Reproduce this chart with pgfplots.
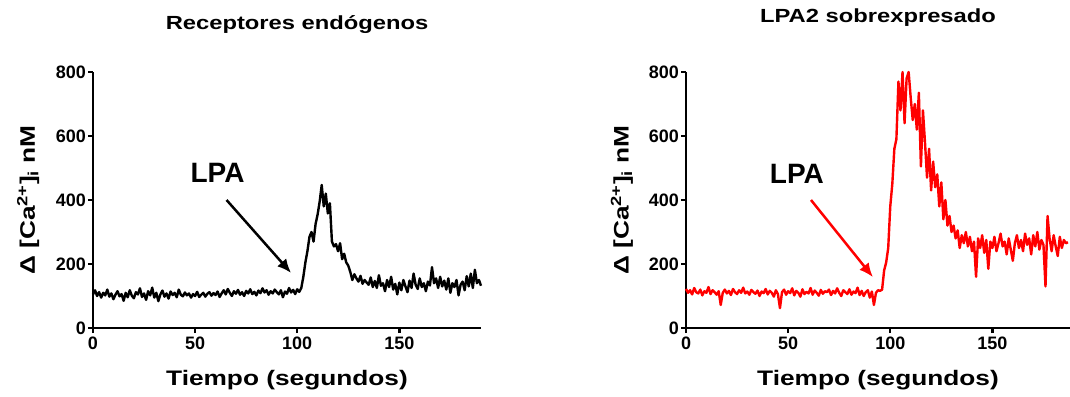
\documentclass[border=0pt]{standalone}
\usepackage{pgfplots}
\pgfplotsset{compat=1.18}
\usetikzlibrary{arrows.meta}
\usepackage{fontspec}
\setmainfont{Liberation Sans}
\newfontfamily\pf[FakeStretch=1.25]{Liberation Sans}
\pgfplotstableread{
x y
0 105
1 118
2 100
3 112
4 95
5 110
6 102
7 120
8 98
9 108
10 90
11 104
12 115
13 99
14 106
15 85
16 110
17 96
18 118
19 101
20 93
21 112
22 105
23 124
24 97
25 108
26 88
27 115
28 102
29 126
30 95
31 110
32 84
33 105
34 117
35 98
36 108
37 92
38 114
39 103
40 110
41 96
42 120
43 104
44 99
45 111
46 102
47 108
48 95
49 106
50 100
51 113
52 97
53 104
54 110
55 98
56 107
57 112
58 101
59 109
60 103
61 114
62 97
63 108
64 118
65 105
66 122
67 110
68 100
69 115
70 107
71 119
72 104
73 112
74 100
75 116
76 108
77 121
78 106
79 113
80 102
81 117
82 109
83 124
84 111
85 118
86 104
87 115
88 108
89 120
90 112
91 105
92 118
93 96
94 114
95 107
96 125
97 111
98 119
99 106
100 121
101 113
102 125
103 160
104 205
105 240
106 285
107 300
108 270
109 325
110 355
111 395
112 447
113 380
114 420
115 358
116 390
117 270
118 255
119 262
120 240
121 265
122 215
123 232
124 205
125 195
126 175
127 150
128 168
129 155
130 145
131 163
132 138
133 150
134 142
135 135
136 158
137 128
138 147
139 125
140 165
141 132
142 140
143 115
144 150
145 128
146 160
147 120
148 138
149 105
150 142
151 118
152 150
153 130
154 112
155 148
156 125
157 170
158 135
159 122
160 155
161 128
162 140
163 115
164 145
165 133
166 190
167 140
168 155
169 125
170 160
171 130
172 148
173 120
174 155
175 110
176 140
177 128
178 150
179 102
180 135
181 145
182 118
183 162
184 130
185 170
186 125
187 182
188 140
189 150
190 132
}\endo
\pgfplotstableread{
x y
0 122
1 110
2 118
3 105
4 125
5 112
6 108
7 120
8 102
9 115
10 110
11 128
12 106
13 118
14 112
15 104
16 115
17 72
18 110
19 120
20 108
21 116
22 103
23 122
24 112
25 106
26 118
27 110
28 126
29 108
30 114
31 104
32 119
33 112
34 107
35 117
36 100
37 114
38 109
39 122
40 105
41 116
42 110
43 98
44 118
45 106
46 62
47 112
48 120
49 104
50 115
51 109
52 124
53 102
54 116
55 110
56 98
57 121
58 106
59 113
60 108
61 125
62 104
63 117
64 110
65 101
66 119
67 107
68 115
69 112
70 120
71 103
72 116
73 108
74 124
75 110
76 100
77 118
78 112
79 106
80 121
81 104
82 114
83 109
84 126
85 103
86 116
87 100
88 112
89 118
90 95
91 114
92 72
93 110
94 118
95 116
96 120
97 180
98 205
99 250
100 380
101 450
102 560
103 590
104 770
105 680
106 800
107 640
108 780
109 800
110 720
111 650
112 700
113 620
114 735
115 505
116 680
117 580
118 470
119 560
120 430
121 520
122 440
123 480
124 380
125 455
126 340
127 400
128 320
129 350
130 300
131 320
132 280
133 305
134 250
135 290
136 265
137 300
138 255
139 285
140 240
141 270
142 160
143 280
144 250
145 290
146 235
147 275
148 185
149 270
150 250
151 285
152 240
153 265
154 295
155 255
156 270
157 230
158 280
159 245
160 210
161 265
162 290
163 250
164 275
165 240
166 295
167 260
168 280
169 230
170 290
171 255
172 300
173 245
174 275
175 260
176 130
177 350
178 280
179 240
180 290
181 255
182 225
183 285
184 250
185 275
186 265
187 268
}\sobre
\begin{document}
\begin{tikzpicture}
\path[use as bounding box] (0pt,0pt) rectangle (1070pt,396pt);
\pgfplotsset{
 prism/.style={
  scale only axis, height=256pt,
  axis lines*=left, axis line style={line width=2.4pt, black},
  xmin=0, ymin=0, ymax=800,
  xtick={0,50,100,150}, ytick={0,200,400,600,800},
  tick align=outside, major tick length=5pt,
  tick style={line width=2.4pt, black},
  /pgf/number format/assume math mode=true,
  ticklabel style={font=\bfseries\fontsize{18}{18}\selectfont},
  yticklabel style={inner sep=2pt},
  xlabel={Tiempo (segundos)},
  ylabel={Δ [Ca\textsuperscript{2+}]\textsubscript{i} nM},
  label style={font=\pf\bfseries\fontsize{21}{21}\selectfont},
  xlabel style={at={(axis description cs:0.5,-0.203)}, anchor=center},
  ylabel style={at={(axis description cs:-0.167,0.5)}, anchor=center},
  title style={font=\pf\bfseries\fontsize{19}{19}\selectfont, anchor=center},
  clip=false,
 }}
\begin{axis}[prism, at={(93pt,68pt)}, anchor=south west, width=388pt, xmax=190,
  title={Receptores endógenos},
  title style={at={(axis description cs:0.526,1.16)}}]
\addplot[black, line width=2.4pt, line join=round] table {\endo};
\node[font=\bfseries\fontsize{28}{28}\selectfont] at (axis cs:61,484) {LPA};
\draw[black, line width=2.5pt, -{Latex[length=14pt,width=12pt]}] (axis cs:65.4,400) -- (axis cs:97,172);
\end{axis}
\begin{axis}[prism, at={(686pt,68pt)}, anchor=south west, width=384pt, xmax=188,
  title={LPA2 sobrexpresado},
  title style={at={(axis description cs:0.5,1.19)}}]
\addplot[red, line width=2.4pt, line join=round] table {\sobre};
\node[font=\bfseries\fontsize{28}{28}\selectfont] at (axis cs:54.3,481) {LPA};
\draw[red, line width=2.5pt, -{Latex[length=14pt,width=12pt]}] (axis cs:61.2,400) -- (axis cs:91.5,159);
\end{axis}
\end{tikzpicture}
\end{document}
